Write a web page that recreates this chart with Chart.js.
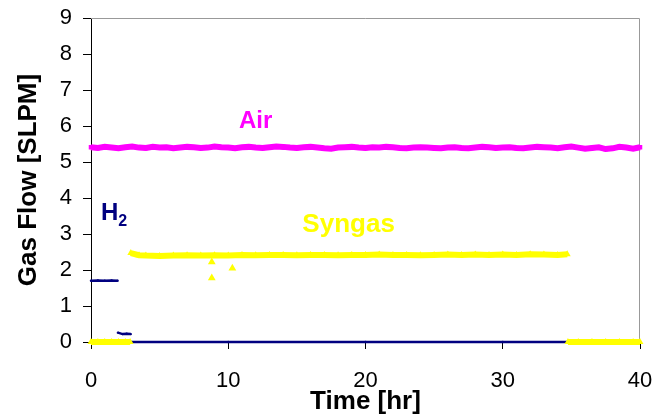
<!DOCTYPE html>
<html>
<head>
<meta charset="utf-8">
<script src="https://cdn.jsdelivr.net/npm/chart.js@4.4.1/dist/chart.umd.min.js"></script>
<style>
  html, body { margin: 0; padding: 0; background: #fff; }
</style>
</head>
<body>
<canvas id="flowChart" width="660" height="417"></canvas>
<script>
// Axis ticks
const xTicks = [0, 10, 20, 30, 40];
const yTicks = [0, 1, 2, 3, 4, 5, 6, 7, 8, 9];

// Air flow, read every half hour
const airTime = [
  0, 0.5, 1, 1.5, 2, 2.5, 3, 3.5, 4, 4.5,
  5, 5.5, 6, 6.5, 7, 7.5, 8, 8.5, 9, 9.5,
  10, 10.5, 11, 11.5, 12, 12.5, 13, 13.5, 14, 14.5,
  15, 15.5, 16, 16.5, 17, 17.5, 18, 18.5, 19, 19.5,
  20, 20.5, 21, 21.5, 22, 22.5, 23, 23.5, 24, 24.5,
  25, 25.5, 26, 26.5, 27, 27.5, 28, 28.5, 29, 29.5,
  30, 30.5, 31, 31.5, 32, 32.5, 33, 33.5, 34, 34.5,
  35, 35.5, 36, 36.5, 37, 37.5, 38, 38.5, 39, 39.5, 40
];
const airFlow = [
  5.41, 5.39, 5.42, 5.40, 5.38, 5.41, 5.43, 5.40, 5.39, 5.42,
  5.40, 5.41, 5.38, 5.40, 5.42, 5.41, 5.39, 5.40, 5.43, 5.41,
  5.40, 5.38, 5.41, 5.42, 5.40, 5.39, 5.41, 5.43, 5.42, 5.40,
  5.39, 5.41, 5.42, 5.40, 5.38, 5.37, 5.40, 5.41, 5.42, 5.40,
  5.39, 5.41, 5.40, 5.42, 5.41, 5.39, 5.38, 5.40, 5.41, 5.40,
  5.39, 5.38, 5.40, 5.41, 5.39, 5.38, 5.40, 5.42, 5.41, 5.39,
  5.40, 5.41, 5.39, 5.38, 5.40, 5.42, 5.41, 5.40, 5.38, 5.41,
  5.43, 5.40, 5.37, 5.39, 5.41, 5.36, 5.38, 5.42, 5.40, 5.37, 5.41
];

// H2 flow (null = break between runs)
const h2Time = [0, 0.5, 1, 1.5, 1.94, 1.95, 1.96, 2.3, 2.6, 2.9, 2.92, 2.95, 10, 20, 30, 34.8];
const h2Flow = [1.70, 1.71, 1.70, 1.71, 1.70, null, 0.26, 0.22, 0.23, 0.22, null, 0, 0, 0, 0, 0];

// Syngas flow
const syngasTime = [
  0, 0.5, 1, 1.5, 2, 2.5, 2.85, 2.87, 2.9, 3.5, 4,
  5, 6, 7, 8, 9, 10, 11, 12, 13, 14,
  15, 16, 17, 18, 19, 20, 21, 22, 23, 24,
  25, 26, 27, 28, 29, 30, 31, 32, 33, 34,
  34.7, 34.72, 34.75, 35.5, 36.5, 37.5, 38.5, 39.5, 40
];
const syngasFlow = [
  0, 0, 0, 0, 0, 0, 0, null, 2.47, 2.41, 2.40,
  2.39, 2.40, 2.41, 2.40, 2.41, 2.40, 2.42, 2.41, 2.42, 2.42,
  2.41, 2.42, 2.42, 2.41, 2.42, 2.42, 2.43, 2.42, 2.42, 2.41,
  2.42, 2.43, 2.42, 2.43, 2.42, 2.43, 2.42, 2.44, 2.43, 2.42,
  2.44, null, 0, 0, 0, 0, 0, 0, 0
];
// Stray syngas readings
const syngasOddTime = [8.8, 8.8, 10.3];
const syngasOddFlow = [1.78, 2.22, 2.05];

const toPoints = (xs, ys) => xs.map((x, i) => ({ x: x, y: ys[i] }));

const AIR = "#ff00ff";
const H2 = "#000080";
const SYNGAS = "#ffff00";
const FONT = "'Liberation Sans', Arial, sans-serif";

// Plot frame (top + right) and the series names
const framePlugin = {
  id: "frame",
  beforeDatasetsDraw(chart) {
    const { ctx, chartArea: a } = chart;
    ctx.save();
    ctx.strokeStyle = "#999999";
    ctx.lineWidth = 1;
    ctx.beginPath();
    ctx.moveTo(a.left, a.top + 0.5);
    ctx.lineTo(a.right - 0.5, a.top + 0.5);
    ctx.lineTo(a.right - 0.5, a.bottom);
    ctx.stroke();
    ctx.restore();
  },
  afterDatasetsDraw(chart) {
    const { ctx, scales } = chart;
    const px = (v) => scales.x.getPixelForValue(v);
    const py = (v) => scales.y.getPixelForValue(v);
    ctx.save();
    ctx.textBaseline = "alphabetic";

    ctx.font = "bold 24px " + FONT;
    ctx.fillStyle = AIR;
    ctx.textAlign = "center";
    ctx.fillText("Air", px(12.0), py(5.94));

    ctx.textAlign = "left";
    ctx.fillStyle = H2;
    const hx = px(0.73), hy = py(3.39);
    ctx.fillText("H", hx, hy);
    const hw = ctx.measureText("H").width;
    ctx.font = "bold 16px " + FONT;
    ctx.fillText("2", hx + hw, hy + 6);

    ctx.font = "bold 26px " + FONT;
    ctx.fillStyle = SYNGAS;
    ctx.fillText("Syngas", px(15.4), py(3.06));
    ctx.restore();
  }
};

new Chart(document.getElementById("flowChart"), {
  type: "scatter",
  data: {
    datasets: [
      {
        label: "Syngas",
        data: toPoints(syngasTime, syngasFlow),
        showLine: true,
        borderColor: SYNGAS,
        backgroundColor: SYNGAS,
        borderWidth: 6,
        pointStyle: "triangle",
        pointRadius: 4,
        pointBorderWidth: 0,
        clip: false
      },
      {
        label: "Syngas stray",
        data: toPoints(syngasOddTime, syngasOddFlow),
        showLine: false,
        backgroundColor: SYNGAS,
        borderColor: SYNGAS,
        pointStyle: "triangle",
        pointRadius: 4.5,
        pointBorderWidth: 0,
        clip: false
      },
      {
        label: "Air",
        data: toPoints(airTime, airFlow),
        showLine: true,
        borderColor: AIR,
        backgroundColor: AIR,
        borderWidth: 6,
        pointStyle: "rect",
        pointRadius: 3.2,
        pointBorderWidth: 0,
        clip: false
      },
      {
        label: "H2",
        data: toPoints(h2Time, h2Flow),
        showLine: true,
        borderColor: H2,
        backgroundColor: H2,
        borderWidth: 2.5,
        pointRadius: 1.2,
        pointBorderWidth: 0,
        clip: false
      }
    ]
  },
  options: {
    responsive: false,
    animation: false,
    events: [],
    layout: { padding: { top: 18, right: 20, left: 0, bottom: 0 } },
    plugins: {
      legend: { display: false },
      tooltip: { enabled: false }
    },
    scales: {
      x: {
        type: "linear",
        min: 0,
        max: 40,
        afterBuildTicks: (s) => { s.ticks = xTicks.map((v) => ({ value: v })); },
        afterFit: (s) => {
          s.height = 75;
          s.paddingLeft = 0;
          s.paddingRight = 0;
        },
        grid: { drawOnChartArea: false, tickLength: 7, color: "#000" },
        border: { color: "#000", width: 1 },
        ticks: { color: "#000", padding: 19, font: { family: FONT, size: 22 } },
        title: {
          display: true,
          text: "Time [hr]",
          color: "#000",
          font: { family: FONT, size: 26, weight: "bold" },
          padding: { top: 0, bottom: 0 }
        }
      },
      y: {
        min: 0,
        max: 9,
        afterBuildTicks: (s) => { s.ticks = yTicks.map((v) => ({ value: v })); },
        afterFit: (s) => {
          s.width = 91;
          s.paddingTop = 0;
          s.paddingBottom = 0;
        },
        grid: { drawOnChartArea: false, tickLength: 8, color: "#000" },
        border: { color: "#000", width: 1 },
        ticks: { color: "#000", padding: 11, font: { family: FONT, size: 22 } },
        title: {
          display: true,
          text: "Gas Flow [SLPM]",
          color: "#000",
          font: { family: FONT, size: 26, weight: "bold" },
          padding: { top: 13, bottom: 0 }
        }
      }
    }
  },
  plugins: [framePlugin]
});
</script>
</body>
</html>
